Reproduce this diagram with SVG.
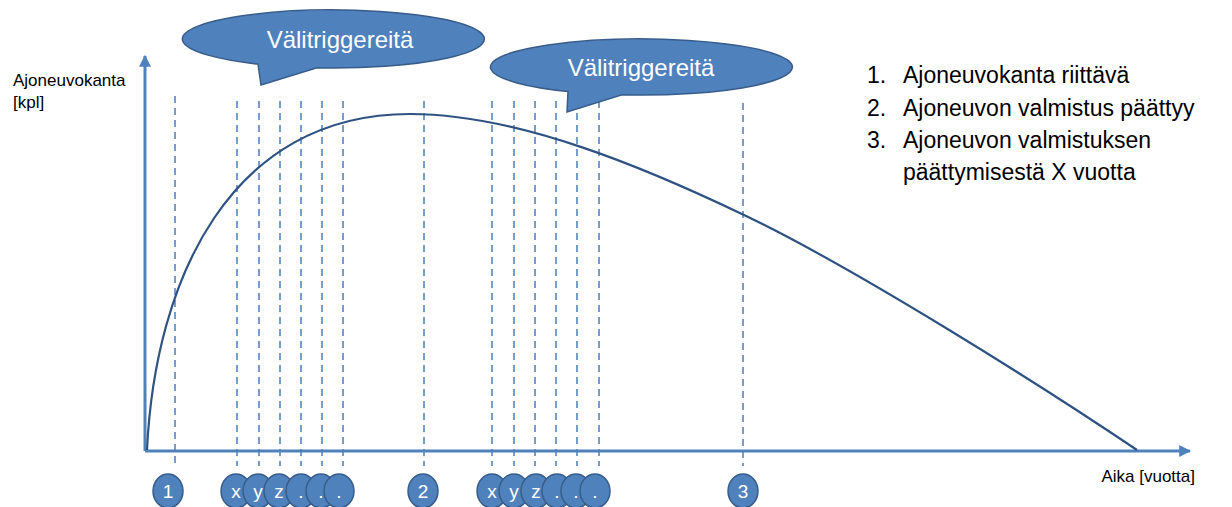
<svg xmlns="http://www.w3.org/2000/svg" width="1232" height="507" viewBox="0 0 1232 507">
  <style>
    .lbl { font-family: "Liberation Sans", Arial, sans-serif; font-size: 17px; fill: #000; }
    .bub { fill: #4f81bd; stroke: #385d8a; stroke-width: 1.5; }
    .bubtxt { font-family: "Liberation Sans", Arial, sans-serif; font-size: 24px; fill: #fff; text-anchor: middle; }
    .mark { fill: #4f81bd; stroke: #385d8a; stroke-width: 1.5; }
    .marktxt { font-family: "Liberation Sans", Arial, sans-serif; font-size: 19px; fill: #fff; text-anchor: middle; }
    .axis { stroke: #4f81bd; stroke-width: 3; fill: none; }
    .tick { stroke: #4a7ebb; stroke-width: 1.5; stroke-dasharray: 7 5; fill: none; }
    .curve { stroke: #2e5282; stroke-width: 2.2; fill: none; }
    .legend { font-family: "Liberation Sans", Arial, sans-serif; font-size: 23px; fill: #000; }
  </style>
  <defs>
    <marker id="arrow" viewBox="0 0 10 10" refX="9" refY="5" markerWidth="4" markerHeight="4" orient="auto" markerUnits="strokeWidth">
      <path d="M0,0 L10,5 L0,10 Z" fill="#4f81bd"/>
    </marker>
  </defs>

  <rect width="1232" height="507" fill="#fff"/>

  <!-- axes, time markers and the fleet curve -->
  <g id="connectors">
    <g id="ticks">
      <line class="tick" x1="175" y1="96" x2="175" y2="466"/>
      <line class="tick" x1="237" y1="101" x2="237" y2="466"/>
      <line class="tick" x1="259" y1="101" x2="259" y2="466"/>
      <line class="tick" x1="280" y1="101" x2="280" y2="466"/>
      <line class="tick" x1="301" y1="101" x2="301" y2="466"/>
      <line class="tick" x1="322" y1="101" x2="322" y2="466"/>
      <line class="tick" x1="343" y1="101" x2="343" y2="466"/>
      <line class="tick" x1="424" y1="101" x2="424" y2="466"/>
      <line class="tick" x1="492" y1="101" x2="492" y2="466"/>
      <line class="tick" x1="514" y1="101" x2="514" y2="466"/>
      <line class="tick" x1="535" y1="101" x2="535" y2="466"/>
      <line class="tick" x1="556" y1="101" x2="556" y2="466"/>
      <line class="tick" x1="577" y1="101" x2="577" y2="466"/>
      <line class="tick" x1="599" y1="101" x2="599" y2="466"/>
      <line class="tick" x1="743" y1="103" x2="743" y2="466"/>
    </g>
    <path class="axis" d="M145,451 L145,56" marker-end="url(#arrow)"/>
    <path class="axis" d="M145,451 L1190,451" marker-end="url(#arrow)"/>
    <path class="curve" d="M147,450 C155,280 230,114 410,114 C520,114 650,170 744,215 C857,269 1045,388 1137,450"/>
  </g>

  <!-- axis labels -->
  <g id="y-label">
    <text class="lbl" x="13" y="86">Ajoneuvokanta</text>
    <text class="lbl" x="13" y="108">[kpl]</text>
  </g>
  <g id="x-label">
    <text class="lbl" x="1195" y="482" text-anchor="end">Aika [vuotta]</text>
  </g>

  <!-- callouts: ellipse (rx 151) with a pointer tail -->
  <g id="callout-1">
    <path class="bub" d="M258,64.1 L261,85 L317,67.8 A151,29 0 1 0 258,64.1 Z"/>
    <text class="bubtxt" x="340" y="48">Välitriggereitä</text>
  </g>
  <g id="callout-2">
    <path class="bub" d="M568,91.5 L567,112 L622,94.8 A151,28 0 1 0 568,91.5 Z"/>
    <text class="bubtxt" x="641" y="76">Välitriggereitä</text>
  </g>

  <!-- numbered markers below the time axis -->
  <g id="marker-1">
    <ellipse class="mark" cx="168" cy="491" rx="15" ry="17"/>
    <text class="marktxt" x="168" y="498">1</text>
  </g>
  <g id="marker-x1"><ellipse class="mark" cx="236" cy="491" rx="15" ry="17"/><text class="marktxt" x="236" y="498">x</text></g>
  <g id="marker-y1"><ellipse class="mark" cx="258" cy="491" rx="15" ry="17"/><text class="marktxt" x="258" y="498">y</text></g>
  <g id="marker-z1"><ellipse class="mark" cx="279" cy="491" rx="15" ry="17"/><text class="marktxt" x="279" y="498">z</text></g>
  <g id="marker-d1a"><ellipse class="mark" cx="301" cy="491" rx="15" ry="17"/><text class="marktxt" x="301" y="498">.</text></g>
  <g id="marker-d1b"><ellipse class="mark" cx="321" cy="491" rx="15" ry="17"/><text class="marktxt" x="321" y="498">.</text></g>
  <g id="marker-d1c"><ellipse class="mark" cx="339" cy="491" rx="15" ry="17"/><text class="marktxt" x="339" y="498">.</text></g>
  <g id="marker-2">
    <ellipse class="mark" cx="423" cy="491" rx="15" ry="17"/>
    <text class="marktxt" x="423" y="498">2</text>
  </g>
  <g id="marker-x2"><ellipse class="mark" cx="492" cy="491" rx="15" ry="17"/><text class="marktxt" x="492" y="498">x</text></g>
  <g id="marker-y2"><ellipse class="mark" cx="514" cy="491" rx="15" ry="17"/><text class="marktxt" x="514" y="498">y</text></g>
  <g id="marker-z2"><ellipse class="mark" cx="536" cy="491" rx="15" ry="17"/><text class="marktxt" x="536" y="498">z</text></g>
  <g id="marker-d2a"><ellipse class="mark" cx="557" cy="491" rx="15" ry="17"/><text class="marktxt" x="557" y="498">.</text></g>
  <g id="marker-d2b"><ellipse class="mark" cx="576" cy="491" rx="15" ry="17"/><text class="marktxt" x="576" y="498">.</text></g>
  <g id="marker-d2c"><ellipse class="mark" cx="595" cy="491" rx="15" ry="17"/><text class="marktxt" x="595" y="498">.</text></g>
  <g id="marker-3">
    <ellipse class="mark" cx="743" cy="491" rx="15" ry="17"/>
    <text class="marktxt" x="743" y="498">3</text>
  </g>

  <!-- legend -->
  <g id="legend">
    <text class="legend" x="867" y="83">1.</text>
    <text class="legend" x="903" y="83">Ajoneuvokanta riittävä</text>
    <text class="legend" x="867" y="116">2.</text>
    <text class="legend" x="903" y="116">Ajoneuvon valmistus päättyy</text>
    <text class="legend" x="867" y="148">3.</text>
    <text class="legend" x="903" y="148">Ajoneuvon valmistuksen</text>
    <text class="legend" x="903" y="180">päättymisestä X vuotta</text>
  </g>
</svg>
